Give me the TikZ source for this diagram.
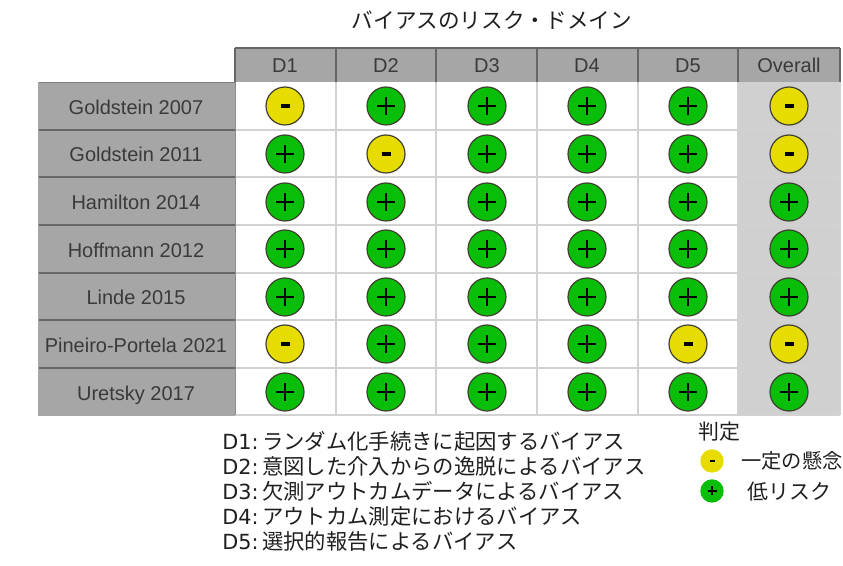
\documentclass[tikz,border=0pt]{standalone}
\usepackage{fontspec}
\setmainfont{Liberation Sans}
\newfontfamily\jp{Noto Sans CJK JP}[Scale=1]
\newfontfamily\lat{DejaVu Sans}
\definecolor{hdr}{HTML}{A6A6A6}
\definecolor{ovr}{HTML}{D0D0D0}
\definecolor{gridc}{HTML}{D2D2D2}
\definecolor{yel}{HTML}{E6DC00}
\definecolor{grn}{HTML}{08BE08}
\definecolor{txtc}{HTML}{3A3A3A}
\definecolor{edgec}{HTML}{404030}
\tikzset{
  x=0.75pt,y=-0.75pt,
  tbltext/.style={font=\fontsize{15}{17}\selectfont,text=txtc,inner sep=0,text height=13pt,text depth=2.4pt},
  lowdot/.style={circle,draw=edgec,line width=0.9pt,fill=grn,minimum size=28.5pt,inner sep=0},
  somedot/.style={circle,draw=edgec,line width=0.9pt,fill=yel,minimum size=28.5pt,inner sep=0},
  leglow/.style={circle,fill=grn,minimum size=17.5pt,inner sep=0},
  legsome/.style={circle,fill=yel,minimum size=17.5pt,inner sep=0},
  jptext/.style={font=\jp\fontsize{16}{18}\selectfont,text=black!88,inner sep=0,anchor=west},
  legtext/.style={font=\jp\fontsize{15.7}{18}\selectfont,text=black!88,inner sep=0,anchor=west},
}
\newcommand{\plusmark}[3]{\draw[line width=#3,black] (#1-9,#2) -- (#1+9,#2) (#1,#2-9) -- (#1,#2+9);}
\newcommand{\dnum}[1]{\makebox[30pt][l]{\lat\fontsize{15.6}{18}\selectfont D#1:}}
\begin{document}
\begin{tikzpicture}
\useasboundingbox (0,0) rectangle (843,566);
% overall column background
\fill[ovr] (738,82) rectangle (840,415);
% grid
\foreach \yy in {130,177,225,273,320,368,415} {\draw[gridc,line width=1.1pt] (235,\yy) -- (840,\yy);}
\foreach \xx in {336,436,537,638,738,840} {\draw[gridc,line width=1.1pt] (\xx,82) -- (\xx,415);}
% header
\fill[hdr] (235,48) rectangle (840,82);
\draw[black!60,line width=0.8pt] (235,48) -- (840,48);
\foreach \xx in {235,336,436,537,638,738,840} {\draw[black!60,line width=0.8pt] (\xx,48) -- (\xx,82);}
\node[tbltext] (hD1) at (285,65.5) {D1};
\node[tbltext] (hD2) at (386,65.5) {D2};
\node[tbltext] (hD3) at (487,65.5) {D3};
\node[tbltext] (hD4) at (587,65.5) {D4};
\node[tbltext] (hD5) at (688,65.5) {D5};
\node[tbltext] (hOv) at (789,65.5) {Overall};
% row labels
\fill[hdr] (38,82) rectangle (235,415);
\draw[black!50,line width=0.7pt] (38,82) -- (235,82);
\foreach \yy in {130,177,225,273,320,368} {\draw[black!60,line width=1pt] (38,\yy) -- (235,\yy);}
\draw[black!35,line width=0.7pt] (38,82) -- (38,415) -- (235,415);
\draw[black!45,line width=0.7pt] (235,82) -- (235,415);
\node[tbltext] (r1) at (136,107) {Goldstein 2007};
\node[tbltext] (r2) at (136,154) {Goldstein 2011};
\node[tbltext] (r3) at (136,202) {Hamilton 2014};
\node[tbltext] (r4) at (136,250) {Hoffmann 2012};
\node[tbltext] (r5) at (136,297) {Linde 2015};
\node[tbltext] (r6) at (136,345) {Pineiro-Portela 2021};
\node[tbltext] (r7) at (136,393) {Uretsky 2017};
% judgement dots
\foreach \yy/\row/\a/\b/\c/\d/\e/\f in {
 106/1/somedot/lowdot/lowdot/lowdot/lowdot/somedot,
 154/2/lowdot/somedot/lowdot/lowdot/lowdot/somedot,
 202/3/lowdot/lowdot/lowdot/lowdot/lowdot/lowdot,
 249/4/lowdot/lowdot/lowdot/lowdot/lowdot/lowdot,
 297/5/lowdot/lowdot/lowdot/lowdot/lowdot/lowdot,
 344/6/somedot/lowdot/lowdot/lowdot/somedot/somedot,
 392/7/lowdot/lowdot/lowdot/lowdot/lowdot/lowdot} {
  \foreach \xx/\col/\st in {285/1/\a,386/2/\b,487/3/\c,587/4/\d,688/5/\e,789/6/\f} {
    \node[\st] (c\row-\col) at (\xx,\yy) {};
    \def\tmpa{somedot}\edef\tmpb{\st}
    \ifx\tmpa\tmpb
      \draw[black,line width=2.3pt] (\xx-4.5,\yy) -- (\xx+4.5,\yy);
    \else
      \plusmark{\xx}{\yy}{1.9pt}
    \fi
  }
}
% title
\node[font=\jp\fontsize{16.2}{19}\selectfont,text=black!88,inner sep=0] (title) at (492,20) {バイアスのリスク・ドメイン};
% notes
\node[jptext] (n1) at (222,441) {\dnum{1}ランダム化手続きに起因するバイアス};
\node[jptext] (n2) at (222,466) {\dnum{2}意図した介入からの逸脱によるバイアス};
\node[jptext] (n3) at (222,491) {\dnum{3}欠測アウトカムデータによるバイアス};
\node[jptext] (n4) at (222,516) {\dnum{4}アウトカム測定におけるバイアス};
\node[jptext] (n5) at (222,541) {\dnum{5}選択的報告によるバイアス};
% legend
\node[legtext] (legt) at (698,432) {判定};
\node[legsome] (l1) at (712,461) {};
\draw[black,line width=1pt] (709.5,461) -- (714.5,461);
\node[leglow] (l2) at (712,491) {};
\draw[black,line width=0.9pt] (707.5,491) -- (716.5,491) (712,486.5) -- (712,495.5);
\node[legtext,font=\jp\fontsize{15.2}{18}\selectfont] (l1t) at (741,461) {一定の懸念};
\node[legtext] (l2t) at (747,492) {低リスク};
\end{tikzpicture}
\end{document}
